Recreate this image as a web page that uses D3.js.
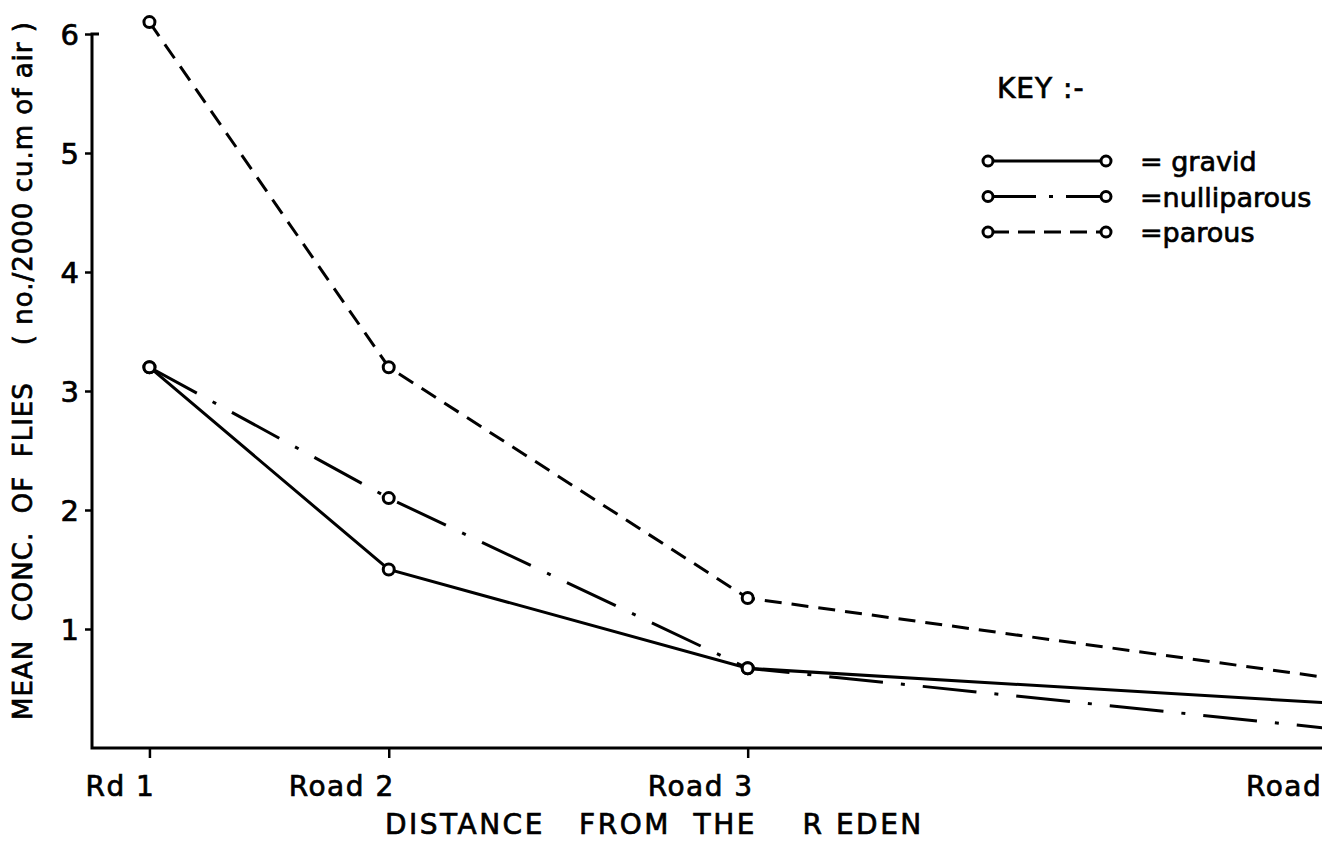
<!DOCTYPE html>
<html>
<head>
<meta charset="utf-8">
<script src="https://cdn.jsdelivr.net/npm/d3@7"></script>
<style>
  html, body { margin: 0; padding: 0; background: #fff; overflow: hidden; }
  svg { display: block; }
  text { font-family: "DejaVu Sans", sans-serif; fill: #000; stroke: #000; stroke-width: 0.7px; }
</style>
</head>
<body>
<svg width="1322" height="842"></svg>
<script>
// distance of each sampling road from the Reden (relative units)
const distances = [0, 1, 2.5, 5];
const roadLabels = ['Rd 1', 'Road 2', 'Road 3', 'Road 4'];
const gravid = [3.2, 1.5, 0.67, 0.37];
const nulliparous = [3.2, 2.1, 0.67, 0.15];
const parous = [6.1, 3.2, 1.26, 0.57];
const yTicks = [1, 2, 3, 4, 5, 6];

const svg = d3.select('svg');
const width = 1322;

const x = d3.scaleLinear().domain([-0.24, 4.9]).range([92, 1322]);
const y = d3.scaleLinear().domain([0, 6]).range([748, 34]);

const series = [
    {name: 'gravid', values: gravid, dash: null, keyDash: null, keyLabel: '= gravid'},
    {name: 'nulliparous', values: nulliparous, dash: '54,18,4,18', keyDash: '44,13,4,13', keyLabel: '=nulliparous'},
    {name: 'parous', values: parous, dash: '17,10', keyDash: '17,9', keyLabel: '=parous'}
];

// y axis
const yAxis = svg.append('g')
    .attr('transform', `translate(${x.range()[0]},0)`)
    .call(d3.axisLeft(y).tickValues(yTicks).tickSize(7).tickPadding(6).tickFormat(d3.format('d')));
yAxis.select('.domain').remove();
yAxis.selectAll('line').attr('stroke', '#000').attr('stroke-width', 2.5);
yAxis.selectAll('text')
    .style('font-family', '"DejaVu Sans", sans-serif')
    .style('font-size', '29px')
    .attr('dy', '0.36em');

// x axis
const xAxis = svg.append('g')
    .attr('transform', `translate(0,${y(0)})`)
    .call(d3.axisBottom(x).tickValues(distances).tickSize(10).tickFormat(''));
xAxis.select('.domain').remove();
xAxis.selectAll('line').attr('stroke', '#000').attr('stroke-width', 2.5);

svg.append('path')
    .attr('d', `M${x.range()[0] + 7},${y(6)}H${x.range()[0]}V${y(0)}H${width}`)
    .attr('fill', 'none')
    .attr('stroke', '#000')
    .attr('stroke-width', 3);

svg.append('g').selectAll('text')
    .data(distances)
    .join('text')
    .attr('x', d => x(d) + 6)
    .attr('y', y(0) + 48)
    .attr('text-anchor', 'end')
    .style('font-size', '28px')
    .style('letter-spacing', '1.5px')
    .text((d, i) => roadLabels[i]);

// axis titles
svg.append('text')
    .attr('x', 385)
    .attr('y', 834)
    .attr('xml:space', 'preserve')
    .style('white-space', 'pre')
    .style('font-size', '28px')
    .style('letter-spacing', '2.5px')
    .text('DISTANCE   FROM  THE    R EDEN');

svg.append('text')
    .attr('transform', 'translate(32,720) rotate(-90)')
    .attr('textLength', 698)
    .attr('lengthAdjust', 'spacing')
    .attr('xml:space', 'preserve')
    .style('white-space', 'pre')
    .style('font-size', '26px')
    .text('MEAN  CONC.  OF  FLIES    ( no./2000 cu.m of air )');

// lines
const line = d3.line()
    .x((d, i) => x(distances[i]))
    .y(d => y(d));

svg.append('g').selectAll('path')
    .data(series)
    .join('path')
    .attr('d', d => line(d.values))
    .attr('fill', 'none')
    .attr('stroke', '#000')
    .attr('stroke-width', 3)
    .attr('stroke-dasharray', d => d.dash);

svg.append('g').selectAll('g')
    .data(series)
    .join('g')
    .selectAll('circle')
    .data(d => d.values)
    .join('circle')
    .attr('cx', (d, i) => x(distances[i]))
    .attr('cy', d => y(d))
    .attr('r', 5.5)
    .attr('fill', '#fff')
    .attr('stroke', '#000')
    .attr('stroke-width', 3);

// key
const key = svg.append('g').attr('transform', 'translate(988,0)');
key.append('text')
    .attr('x', 9)
    .attr('y', 98)
    .style('font-size', '28px')
    .style('letter-spacing', '1px')
    .text('KEY :-');

const rows = key.selectAll('g.row')
    .data(series)
    .join('g')
    .attr('class', 'row')
    .attr('transform', (d, i) => `translate(0,${161 + i * 35.5})`);

rows.append('line')
    .attr('x1', 4).attr('x2', 114)
    .attr('stroke', '#000')
    .attr('stroke-width', 3)
    .attr('stroke-dasharray', d => d.keyDash);

rows.selectAll('circle')
    .data([0, 118])
    .join('circle')
    .attr('cx', d => d)
    .attr('r', 5)
    .attr('fill', '#fff')
    .attr('stroke', '#000')
    .attr('stroke-width', 3);

rows.append('text')
    .attr('x', 152)
    .attr('y', 10)
    .attr('xml:space', 'preserve')
    .style('white-space', 'pre')
    .style('font-size', '27px')
    .text(d => d.keyLabel);
</script>
</body>
</html>
